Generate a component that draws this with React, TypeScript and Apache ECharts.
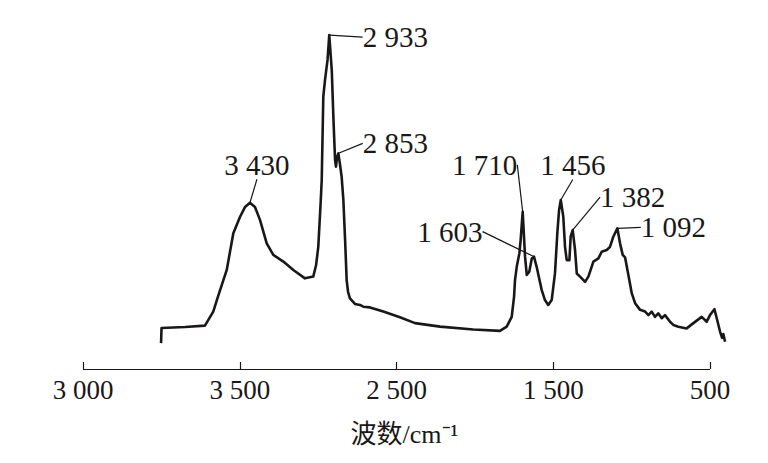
import React, { useEffect, useRef } from "react";
import * as echarts from "echarts";

// wavenumber (cm-1), relative absorbance
const wavenumbers = [
  4002, 3999, 3849, 3722, 3669, 3639, 3583, 3541, 3498, 3466, 3435, 3403, 3371, 3328, 3286, 3222, 3158, 3084, 3031, 3013,
  2999, 2983, 2977, 2967, 2956, 2940, 2929, 2913, 2902, 2892, 2886, 2879, 2871, 2860, 2850, 2839, 2828, 2818, 2809, 2797,
  2765, 2733, 2712, 2669, 2584, 2478, 2382, 2222, 2010, 1840, 1797, 1765, 1750, 1744, 1733, 1716, 1708, 1695, 1680, 1669,
  1653, 1637, 1623, 1606, 1574, 1553, 1532, 1510, 1489, 1474, 1463, 1452, 1436, 1425, 1414, 1397, 1389, 1376, 1361, 1350,
  1329, 1297, 1276, 1244, 1212, 1191, 1159, 1138, 1117, 1091, 1074, 1057, 1042, 1021, 999, 978, 946, 914, 893, 872,
  851, 830, 808, 787, 755, 734, 702, 649, 606, 553, 521, 500, 472, 457, 436, 423, 415, 404,
];
const absorbance = [
  7.4, 11.7, 12.0, 12.4, 16.4, 20.7, 28.3, 38.8, 43.5, 46.3, 47.5, 46.3, 42.6, 35.9, 32.6, 30.7, 28.3, 25.9, 26.4, 29.7,
  34.9, 48.3, 54.0, 77.8, 82.6, 88.3, 95.4, 85.4, 71.1, 59.7, 57.8, 60.6, 61.6, 58.3, 54.9, 48.3, 36.9, 25.4, 22.0, 20.2,
  18.6, 18.3, 17.8, 17.6, 16.4, 14.8, 13.1, 12.1, 11.3, 10.9, 12.1, 14.9, 20.7, 25.4, 29.2, 33.1, 36.9, 44.9, 32.1, 26.9,
  27.8, 31.6, 32.1, 29.2, 22.6, 19.7, 18.3, 19.7, 27.3, 38.8, 45.4, 48.3, 43.5, 34.9, 31.1, 31.1, 37.8, 39.7, 34.0, 27.3,
  26.4, 24.9, 26.4, 30.7, 31.6, 33.5, 34.0, 34.9, 37.8, 40.2, 35.9, 32.6, 31.9, 26.9, 21.6, 18.8, 16.9, 16.4, 15.4, 16.4,
  14.9, 15.9, 14.5, 15.4, 13.5, 12.6, 12.1, 11.6, 13.1, 14.9, 13.5, 15.4, 17.1, 14.5, 10.7, 8.9, 10.0, 7.8,
];

// annotated peaks
const peakWavenumbers = [3435, 2929, 2871, 1695, 1623, 1452, 1376, 1091];
const peakAbsorbance = [47.5, 95.4, 61.6, 44.9, 32.1, 48.3, 39.7, 40.2];
const peakLabels = ["3 430", "2 933", "2 853", "1 710", "1 603", "1 456", "1 382", "1 092"];

// label offsets (px) from each peak, style only
const labelOffsets: [number, number][] = [
  [7, -38],
  [66, 2],
  [57, -10],
  [-38, -47],
  [-84, -25],
  [12, -35],
  [60, -33],
  [56, -1],
];

const tickValues = [4500, 3500, 2500, 1500, 500];
const tickLabels = ["3 000", "3 500", "2 500", "1 500", "500"];
const axisStart = 4500;
const axisEnd = 500;

const INK = "#1a1718";
const SERIF = "Liberation Serif, Times New Roman, serif";

export default function App() {
  const ref = useRef<HTMLDivElement>(null);

  useEffect(() => {
    if (!ref.current) return;
    const chart = echarts.init(ref.current, undefined, { renderer: "svg" });
    const lineData = wavenumbers.map((w, i) => [w, absorbance[i]]);
    const peakData = peakWavenumbers.map((w, i) => ({ value: [w, peakAbsorbance[i]], name: peakLabels[i] }));

    chart.setOption({
      animation: false,
      backgroundColor: "#ffffff",
      textStyle: { fontFamily: SERIF },
      grid: { left: 83, right: 42, top: 19, bottom: 94 },
      xAxis: {
        type: "value",
        inverse: true,
        min: 398,
        max: 4500,
        name: "波数/cm⁻¹",
        nameLocation: "middle",
        nameGap: 52,
        nameTextStyle: { fontFamily: "Liberation Serif, Noto Sans CJK SC, serif", fontSize: 26, color: INK },
        axisLine: { show: false },
        axisTick: {
          show: true,
          inside: true,
          length: 7,
          customValues: tickValues,
          lineStyle: { color: INK, width: 1.2 },
        },
        axisLabel: {
          show: true,
          margin: 7,
          customValues: tickValues,
          fontFamily: SERIF,
          fontSize: 27,
          color: INK,
          formatter: (v: number) => {
            const idx = tickValues.indexOf(Math.round(v));
            return idx >= 0 ? tickLabels[idx] : "";
          },
        },
        splitLine: { show: false },
      },
      yAxis: {
        type: "value",
        min: 0,
        max: 100,
        show: false,
      },
      series: [
        {
          type: "line",
          data: lineData,
          showSymbol: false,
          symbol: "none",
          smooth: false,
          lineStyle: { color: INK, width: 2.6, join: "round" },
          z: 2,
          markLine: {
            silent: true,
            symbol: "none",
            label: { show: false },
            lineStyle: { color: INK, width: 1.2, type: "solid" },
            data: [[{ coord: [axisStart, 0] }, { coord: [axisEnd, 0] }]],
          },
        },
        {
          type: "scatter",
          data: peakData,
          symbolSize: 0.5,
          itemStyle: { color: INK },
          label: {
            show: true,
            position: "inside",
            formatter: (p: any) => p.name,
            fontFamily: SERIF,
            fontSize: 29,
            color: INK,
            opacity: 1,
            textBorderWidth: 0,
          },
          labelLine: { show: true, lineStyle: { color: INK, width: 1.2 } },
          labelLayout: (p: any) => ({
            dx: labelOffsets[p.dataIndex][0],
            dy: labelOffsets[p.dataIndex][1],
          }),
          z: 3,
        },
      ],
    });
    return () => chart.dispose();
  }, []);

  return <div ref={ref} style={{ position: "fixed", left: 0, top: 0, width: 768, height: 463 }} />;
}
